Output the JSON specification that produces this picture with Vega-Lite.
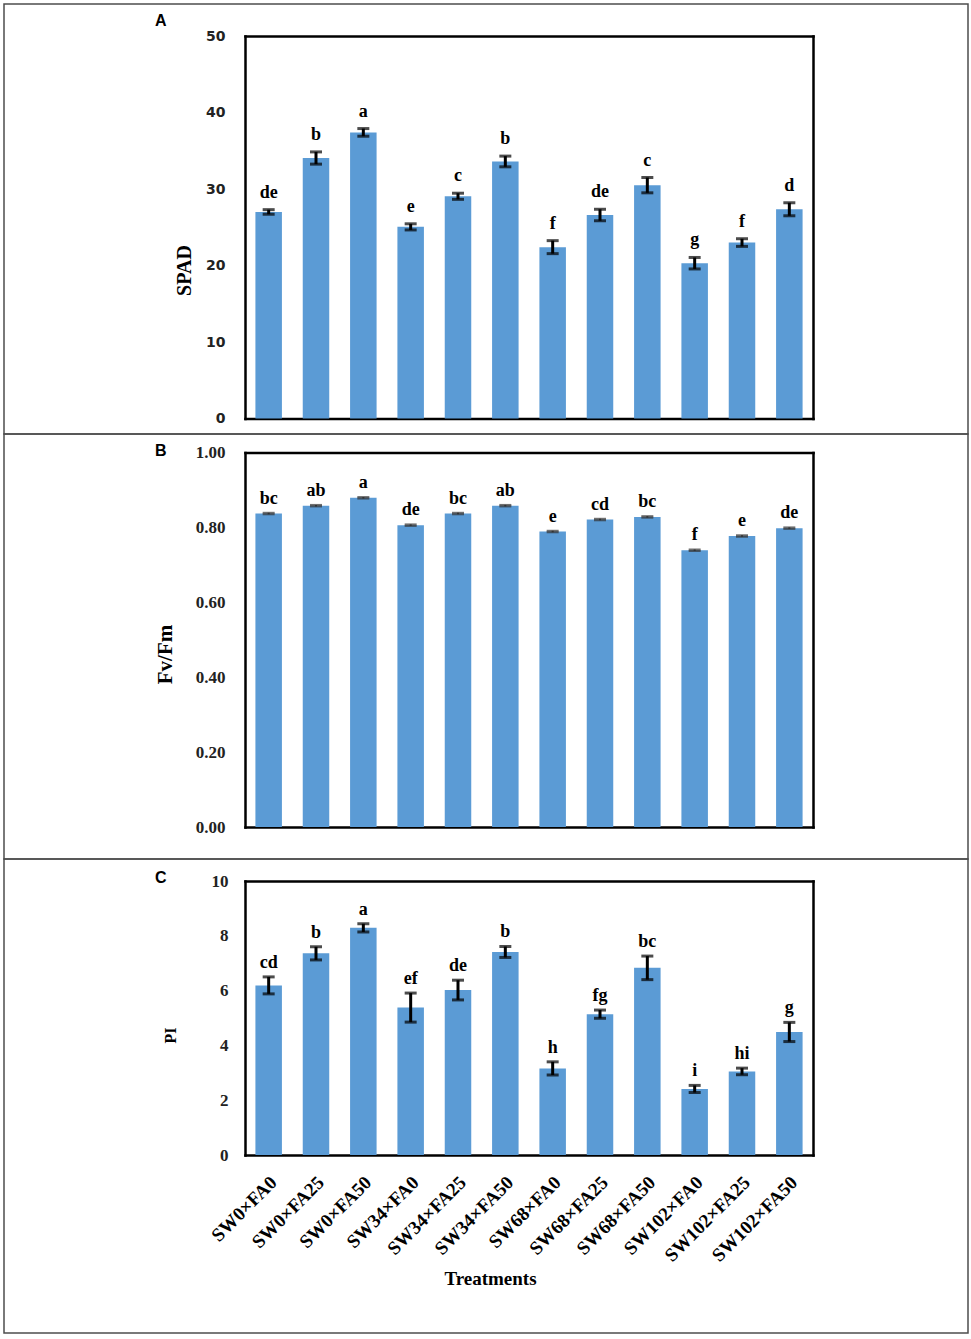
{
  "$schema": "https://vega.github.io/schema/vega-lite/v6.json",
  "background": "white",
  "padding": {"left": 3, "top": 3, "right": 3, "bottom": 3},
  "spacing": 0,
  "bounds": "flush",
  "datasets": {
    "A": [
      {"t": "SW0×FA0", "value": 27.0, "lo": 26.7, "hi": 27.3, "letter": "de"},
      {"t": "SW0×FA25", "value": 34.05, "lo": 33.25, "hi": 34.85, "letter": "b"},
      {"t": "SW0×FA50", "value": 37.4, "lo": 36.9, "hi": 37.9, "letter": "a"},
      {"t": "SW34×FA0", "value": 25.05, "lo": 24.65, "hi": 25.45, "letter": "e"},
      {"t": "SW34×FA25", "value": 29.05, "lo": 28.65, "hi": 29.45, "letter": "c"},
      {"t": "SW34×FA50", "value": 33.6, "lo": 32.9, "hi": 34.3, "letter": "b"},
      {"t": "SW68×FA0", "value": 22.4, "lo": 21.55, "hi": 23.25, "letter": "f"},
      {"t": "SW68×FA25", "value": 26.6, "lo": 25.85, "hi": 27.35, "letter": "de"},
      {"t": "SW68×FA50", "value": 30.5, "lo": 29.5, "hi": 31.5, "letter": "c"},
      {"t": "SW102×FA0", "value": 20.3, "lo": 19.55, "hi": 21.05, "letter": "g"},
      {"t": "SW102×FA25", "value": 23.0, "lo": 22.5, "hi": 23.5, "letter": "f"},
      {"t": "SW102×FA50", "value": 27.35, "lo": 26.5, "hi": 28.2, "letter": "d"}
    ],
    "B": [
      {"t": "SW0×FA0", "value": 0.837, "lo": 0.835, "hi": 0.839, "letter": "bc"},
      {"t": "SW0×FA25", "value": 0.858, "lo": 0.856, "hi": 0.860, "letter": "ab"},
      {"t": "SW0×FA50", "value": 0.879, "lo": 0.877, "hi": 0.881, "letter": "a"},
      {"t": "SW34×FA0", "value": 0.806, "lo": 0.804, "hi": 0.808, "letter": "de"},
      {"t": "SW34×FA25", "value": 0.837, "lo": 0.835, "hi": 0.839, "letter": "bc"},
      {"t": "SW34×FA50", "value": 0.858, "lo": 0.856, "hi": 0.860, "letter": "ab"},
      {"t": "SW68×FA0", "value": 0.789, "lo": 0.787, "hi": 0.791, "letter": "e"},
      {"t": "SW68×FA25", "value": 0.821, "lo": 0.819, "hi": 0.823, "letter": "cd"},
      {"t": "SW68×FA50", "value": 0.828, "lo": 0.826, "hi": 0.830, "letter": "bc"},
      {"t": "SW102×FA0", "value": 0.739, "lo": 0.737, "hi": 0.741, "letter": "f"},
      {"t": "SW102×FA25", "value": 0.777, "lo": 0.775, "hi": 0.779, "letter": "e"},
      {"t": "SW102×FA50", "value": 0.798, "lo": 0.796, "hi": 0.800, "letter": "de"}
    ],
    "C": [
      {"t": "SW0×FA0", "value": 6.19, "lo": 5.88, "hi": 6.50, "letter": "cd"},
      {"t": "SW0×FA25", "value": 7.36, "lo": 7.12, "hi": 7.60, "letter": "b"},
      {"t": "SW0×FA50", "value": 8.29, "lo": 8.14, "hi": 8.44, "letter": "a"},
      {"t": "SW34×FA0", "value": 5.38, "lo": 4.85, "hi": 5.91, "letter": "ef"},
      {"t": "SW34×FA25", "value": 6.02, "lo": 5.66, "hi": 6.38, "letter": "de"},
      {"t": "SW34×FA50", "value": 7.41, "lo": 7.21, "hi": 7.61, "letter": "b"},
      {"t": "SW68×FA0", "value": 3.16, "lo": 2.92, "hi": 3.40, "letter": "h"},
      {"t": "SW68×FA25", "value": 5.14, "lo": 4.99, "hi": 5.29, "letter": "fg"},
      {"t": "SW68×FA50", "value": 6.83, "lo": 6.40, "hi": 7.26, "letter": "bc"},
      {"t": "SW102×FA0", "value": 2.41, "lo": 2.28, "hi": 2.54, "letter": "i"},
      {"t": "SW102×FA25", "value": 3.05, "lo": 2.93, "hi": 3.17, "letter": "hi"},
      {"t": "SW102×FA50", "value": 4.49, "lo": 4.14, "hi": 4.84, "letter": "g"}
    ]
  },
  "vconcat": [
    {
      "width": 964,
      "height": 430,
      "data": {"name": "A"},
      "title": {"text": "A", "anchor": "start", "frame": "group", "orient": "top", "offset": 0, "dx": 151, "dy": 33, "baseline": "middle", "align": "left", "font": "Liberation Sans", "fontWeight": "bold", "fontSize": 16, "color": "black"},
      "layer": [
        {
          "mark": {"type": "bar", "color": "#5b9bd5"},
          "encoding": {
            "x": {"field": "t", "type": "nominal", "sort": null,
              "scale": {"range": [241, 809], "paddingInner": 0.44, "paddingOuter": 0.22},
              "axis": {"orient": "bottom", "offset": -15.5, "domain": true, "domainColor": "black", "domainWidth": 2.5, "domainCap": "square", "ticks": false, "labels": false, "title": null, "grid": false}},
            "y": {"field": "value", "type": "quantitative",
              "scale": {"domain": [0, 50], "range": [414.5, 32], "nice": false, "zero": true},
              "axis": {"orient": "left", "offset": -241, "values": [0, 10, 20, 30, 40, 50], "domain": true, "domainColor": "black", "domainWidth": 2.5, "domainCap": "square", "ticks": false, "tickSize": 0, "grid": false, "labelPadding": 20, "labelFont": "DejaVu Sans", "labelFontWeight": "bold", "labelFontSize": 14, "labelColor": "#222222", "labelOverlap": false, "title": "SPAD", "titleFont": "Liberation Serif", "titleFontSize": 20, "titleFontWeight": "bold", "titleColor": "black", "titleX": -61, "titleY": 266, "titleAngle": 270, "titleAlign": "center", "titleBaseline": "middle"}}
          }
        },
        {
          "mark": {"type": "errorbar", "ticks": {"size": 12, "thickness": 3, "color": "black"}, "thickness": 3, "color": "black"},
          "encoding": {
            "x": {"field": "t", "type": "nominal", "sort": null, "axis": null},
            "y": {"field": "lo", "type": "quantitative", "axis": null},
            "y2": {"field": "hi"}
          }
        },
        {
          "mark": {"type": "text", "font": "Liberation Serif", "fontWeight": "bold", "fontSize": 18, "baseline": "alphabetic", "dy": -12, "color": "black"},
          "encoding": {
            "x": {"field": "t", "type": "nominal", "sort": null,
              "axis": {"orient": "top", "offset": -32, "domain": true, "domainColor": "black", "domainWidth": 2.5, "domainCap": "square", "ticks": false, "labels": false, "title": null, "grid": false}},
            "y": {"field": "hi", "type": "quantitative",
              "axis": {"orient": "right", "offset": -155, "domain": true, "domainColor": "black", "domainWidth": 2.5, "domainCap": "square", "ticks": false, "labels": false, "title": null, "grid": false}},
            "text": {"field": "letter"}
          }
        }
      ],
      "resolve": {"axis": {"x": "independent", "y": "independent"}}
    },
    {
      "width": 964,
      "height": 425,
      "data": {"name": "B"},
      "title": {"text": "B", "anchor": "start", "frame": "group", "orient": "top", "offset": 0, "dx": 151, "dy": 33, "baseline": "middle", "align": "left", "font": "Liberation Sans", "fontWeight": "bold", "fontSize": 16, "color": "black"},
      "layer": [
        {
          "mark": {"type": "bar", "color": "#5b9bd5"},
          "encoding": {
            "x": {"field": "t", "type": "nominal", "sort": null,
              "scale": {"range": [241, 809], "paddingInner": 0.44, "paddingOuter": 0.22},
              "axis": {"orient": "bottom", "offset": -32, "domain": true, "domainColor": "black", "domainWidth": 2.5, "domainCap": "square", "ticks": false, "labels": false, "title": null, "grid": false}},
            "y": {"field": "value", "type": "quantitative",
              "scale": {"domain": [0, 1], "range": [393, 18.5], "nice": false, "zero": true},
              "axis": {"orient": "left", "offset": -241, "values": [0, 0.2, 0.4, 0.6, 0.8, 1.0], "format": ".2f", "domain": true, "domainColor": "black", "domainWidth": 2.5, "domainCap": "square", "ticks": false, "tickSize": 0, "grid": false, "labelPadding": 20, "labelFont": "Liberation Serif", "labelFontWeight": "bold", "labelFontSize": 17, "labelColor": "#222222", "labelOverlap": false, "title": "Fv/Fm", "titleFont": "Liberation Serif", "titleFontSize": 21, "titleFontWeight": "bold", "titleColor": "black", "titleX": -80, "titleY": 220, "titleAngle": 270, "titleAlign": "center", "titleBaseline": "middle"}}
          }
        },
        {
          "mark": {"type": "errorbar", "ticks": {"size": 12, "thickness": 2, "color": "#333333"}, "thickness": 2, "color": "#333333"},
          "encoding": {
            "x": {"field": "t", "type": "nominal", "sort": null, "axis": null},
            "y": {"field": "lo", "type": "quantitative", "axis": null},
            "y2": {"field": "hi"}
          }
        },
        {
          "mark": {"type": "text", "font": "Liberation Serif", "fontWeight": "bold", "fontSize": 18, "baseline": "alphabetic", "dy": -9, "color": "black"},
          "encoding": {
            "x": {"field": "t", "type": "nominal", "sort": null,
              "axis": {"orient": "top", "offset": -18.5, "domain": true, "domainColor": "black", "domainWidth": 2.5, "domainCap": "square", "ticks": false, "labels": false, "title": null, "grid": false}},
            "y": {"field": "hi", "type": "quantitative",
              "axis": {"orient": "right", "offset": -155, "domain": true, "domainColor": "black", "domainWidth": 2.5, "domainCap": "square", "ticks": false, "labels": false, "title": null, "grid": false}},
            "text": {"field": "letter"}
          }
        }
      ],
      "resolve": {"axis": {"x": "independent", "y": "independent"}}
    },
    {
      "width": 964,
      "height": 474,
      "data": {"name": "C"},
      "title": {"text": "C", "anchor": "start", "frame": "group", "orient": "top", "offset": 0, "dx": 151, "dy": 35, "baseline": "middle", "align": "left", "font": "Liberation Sans", "fontWeight": "bold", "fontSize": 16, "color": "black"},
      "layer": [
        {
          "mark": {"type": "bar", "color": "#5b9bd5"},
          "encoding": {
            "x": {"field": "t", "type": "nominal", "sort": null,
              "scale": {"range": [241, 809], "paddingInner": 0.44, "paddingOuter": 0.22},
              "axis": {"orient": "bottom", "offset": -178, "domain": true, "domainColor": "black", "domainWidth": 2.5, "domainCap": "square", "ticks": false, "tickSize": 0, "labels": true, "labelAngle": -45, "labelAlign": "right", "labelBaseline": "middle", "labelPadding": 24, "labelOffset": 5, "labelFont": "Liberation Serif", "labelFontWeight": "bold", "labelFontSize": 19, "labelColor": "black", "labelOverlap": false, "labelBound": false, "labelLimit": 0, "title": "Treatments", "titleFont": "Liberation Serif", "titleFontSize": 19, "titleFontWeight": "bold", "titleColor": "black", "titleX": 486, "titleY": 123, "titleAlign": "center", "titleBaseline": "middle", "grid": false}},
            "y": {"field": "value", "type": "quantitative",
              "scale": {"domain": [0, 10], "range": [296, 22], "nice": false, "zero": true},
              "axis": {"orient": "left", "offset": -241, "values": [0, 2, 4, 6, 8, 10], "domain": true, "domainColor": "black", "domainWidth": 2.5, "domainCap": "square", "ticks": false, "tickSize": 0, "grid": false, "labelPadding": 17, "labelFont": "Liberation Serif", "labelFontWeight": "bold", "labelFontSize": 17, "labelColor": "#222222", "labelOverlap": false, "title": "PI", "titleFont": "Liberation Serif", "titleFontSize": 16, "titleFontWeight": "bold", "titleColor": "black", "titleX": -75, "titleY": 176, "titleAngle": 270, "titleAlign": "center", "titleBaseline": "middle"}}
          }
        },
        {
          "mark": {"type": "errorbar", "ticks": {"size": 12, "thickness": 3, "color": "black"}, "thickness": 3, "color": "black"},
          "encoding": {
            "x": {"field": "t", "type": "nominal", "sort": null, "axis": null},
            "y": {"field": "lo", "type": "quantitative", "axis": null},
            "y2": {"field": "hi"}
          }
        },
        {
          "mark": {"type": "text", "font": "Liberation Serif", "fontWeight": "bold", "fontSize": 18, "baseline": "alphabetic", "dy": -9, "color": "black"},
          "encoding": {
            "x": {"field": "t", "type": "nominal", "sort": null,
              "axis": {"orient": "top", "offset": -22, "domain": true, "domainColor": "black", "domainWidth": 2.5, "domainCap": "square", "ticks": false, "labels": false, "title": null, "grid": false}},
            "y": {"field": "hi", "type": "quantitative",
              "axis": {"orient": "right", "offset": -155, "domain": true, "domainColor": "black", "domainWidth": 2.5, "domainCap": "square", "ticks": false, "labels": false, "title": null, "grid": false}},
            "text": {"field": "letter"}
          }
        }
      ],
      "resolve": {"axis": {"x": "independent", "y": "independent"}}
    }
  ],
  "config": {
    "view": {"stroke": "#4d4d4d", "strokeWidth": 1.5},
    "axis": {"grid": false}
  }
}
